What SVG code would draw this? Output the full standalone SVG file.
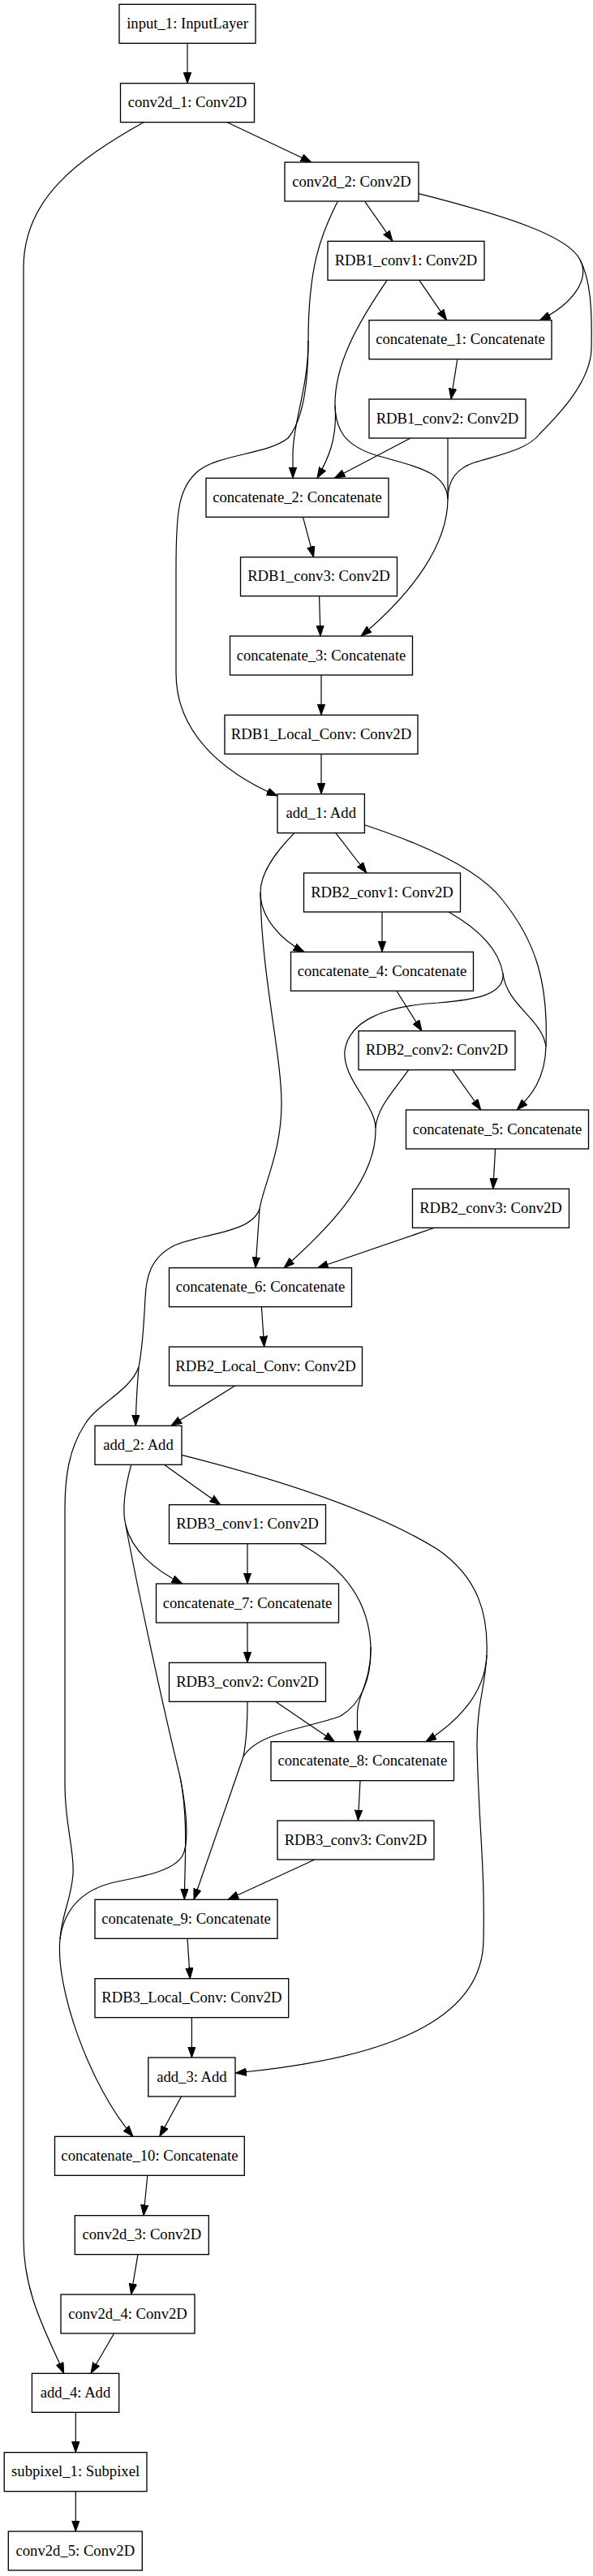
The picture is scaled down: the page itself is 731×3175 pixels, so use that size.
<svg xmlns="http://www.w3.org/2000/svg" width="731" height="3175" viewBox="0 0 731 3175">
<style>
.n rect{fill:#fff;stroke:#000;stroke-width:1.33}
.n text{font-family:"Liberation Serif","Times New Roman",serif;font-size:18.67px;text-anchor:middle;fill:#000}
.e path{fill:none;stroke:#000;stroke-width:1.2;marker-end:url(#ah)}
.e path.t{marker-end:none}
</style>
<defs>
<marker id="ah" markerUnits="userSpaceOnUse" markerWidth="14" markerHeight="10" viewBox="0 0 14 10" refX="13.3" refY="5" orient="auto">
<path d="M0,0.3 L13.3,5 L0,9.7 Z" fill="#000" stroke="#000" stroke-width="1"/>
</marker>
</defs>
<rect x="0" y="0" width="731" height="3175" fill="#fff"/>
<g id="edges" class="e">
<path d="M231,53.3 L231,102.7"/>
<path d="M280,150.7 L384,200"/>
<path d="M177,150.7 C95,197 29,245 29,330 L29,2760 C29,2830 60,2880 78.7,2925.3"/>
<path d="M450,248.7 L484,297.3"/>
<path class="t" d="M516,238.7 C620,265 700,290 715,320"/>
<path d="M715,320 C728,345 705,375 665.4,394.7"/>
<path class="t" d="M715,320 C728,345 730,380 729,430 C728,470 690,510 665,535 C650,555 610,562 585,570 C560,578 552,595 552,615"/>
<path d="M552,615 C552,670 510,730 445,784"/>
<path class="t" d="M416,248.7 C395,290 380,330 380,420"/>
<path d="M380,420 C380,480 361,520 361,560 L361,589.3"/>
<path d="M380,420 C380,480 372,520 355,540 C330,560 270,560 245,580 C220,600 217,630 217,700 L217,830 C217,900 270,950 342,981"/>
<path d="M517,345.7 L550.6,394.7"/>
<path class="t" d="M477,345.7 C440,400 412,450 413,500"/>
<path d="M413,500 C416,540 405,565 391,589.3"/>
<path class="t" d="M413,500 C414,530 425,548 460,560 C510,575 550,580 552,615"/>
<path d="M563.7,443.3 L556,492"/>
<path d="M506,540 L412.4,589.3"/>
<path class="t" d="M552,540 L552,615"/>
<path d="M373.5,637.3 L386.6,686.7"/>
<path d="M393.6,734.7 L395,784"/>
<path d="M396,832 L396,881.3"/>
<path d="M396,929.3 L396,978.7"/>
<path d="M413.8,1026.7 L452,1076"/>
<path class="t" d="M363,1026.7 C340,1050 321,1075 321,1100"/>
<path d="M321,1100 C321,1130 345,1158 375,1173.3"/>
<path class="t" d="M321,1100 C322,1200 347,1300 347,1360 C347,1420 325,1460 320,1490"/>
<path d="M320,1490 L315,1562.7"/>
<path class="t" d="M320,1490 C310,1520 250,1520 215,1535 C185,1550 180,1575 179,1600 C177,1640 174,1670 171,1685"/>
<path d="M171,1685 C169,1710 167.5,1730 167.3,1757.3"/>
<path class="t" d="M171,1685 C160,1715 120,1730 105,1755 C85,1785 80,1820 80,1860 L80,2200 C80,2250 92,2280 90,2310 C88,2340 76,2360 74,2390"/>
<path d="M74,2390 C68,2450 110,2570 164,2633.3"/>
<path class="t" d="M449.4,1016.7 C520,1040 590,1070 620,1110 C660,1160 676,1210 673,1290"/>
<path d="M673,1290 C672,1330 655,1350 637.3,1368"/>
<path d="M471,1124 L471,1173.3"/>
<path class="t" d="M553,1124 C590,1145 615,1170 620,1200"/>
<path class="t" d="M620,1200 C625,1240 668,1255 673,1290"/>
<path class="t" d="M620,1200 C622,1225 590,1232 540,1236 C470,1240 430,1260 425,1295 C422,1330 462,1360 463,1390"/>
<path d="M463,1390 C465,1450 410,1510 350,1562.7"/>
<path d="M488.8,1221.3 L520,1270.7"/>
<path d="M557.6,1318.7 L592.8,1368"/>
<path class="t" d="M503.7,1318.7 C485,1345 465,1365 463,1390"/>
<path d="M610.6,1416 L607.8,1465.3"/>
<path d="M535.6,1513.3 L391.3,1562.7"/>
<path d="M322.4,1610.7 L325.7,1660"/>
<path d="M289.6,1708 L210.9,1757.3"/>
<path d="M202.4,1805.3 L271.8,1854.7"/>
<path class="t" d="M161.7,1805.3 C155,1830 150,1860 155,1880"/>
<path d="M155,1880 C162,1910 190,1935 225,1952"/>
<path class="t" d="M155,1880 C170,1960 200,2100 222,2190"/>
<path d="M222,2190 C232,2240 228,2290 227.3,2341.3"/>
<path class="t" d="M222,2190 C232,2240 232,2275 225,2287 C215,2305 180,2312 150,2318 C110,2325 80,2345 74,2390"/>
<path class="t" d="M224,1793.3 C330,1820 460,1860 540,1910 C590,1945 602,1990 600,2040"/>
<path d="M600,2040 C598,2090 560,2125 524.8,2146.7"/>
<path d="M600,2040 C598,2080 588,2100 588,2150 C590,2250 598,2300 596,2390 C596,2480 500,2535 290.5,2555"/>
<path d="M305,1902.7 L305,1952"/>
<path class="t" d="M370,1902.7 C420,1930 455,1970 457,2030"/>
<path d="M457,2030 C458,2070 441,2090 440.5,2110 L440.5,2146.7"/>
<path class="t" d="M457,2030 C458,2070 445,2100 420,2115 C380,2130 318,2135 300,2165"/>
<path d="M300,2165 L239,2341.3"/>
<path d="M305,2000 L305,2049.3"/>
<path d="M339.7,2097.3 L412.4,2146.7"/>
<path class="t" d="M305,2097.3 C305,2140 302,2155 300,2165"/>
<path d="M444,2194.7 L441.4,2244"/>
<path d="M388,2292 L281,2341.3"/>
<path d="M231,2389.3 L234.3,2438.7"/>
<path d="M236.4,2486.7 L236.4,2536"/>
<path d="M223.5,2584 L196.8,2633.3"/>
<path d="M181.8,2681.3 L177,2730.7"/>
<path d="M170,2778.7 L161.7,2828"/>
<path d="M140.6,2876 L112,2925.3"/>
<path d="M93.3,2973.3 L93.3,3022.7"/>
<path d="M93.3,3070.7 L93.3,3120"/>
</g>
<g id="input_1" class="n"><rect x="147" y="5.33" width="168" height="48"/><text x="231" y="34.9">input_1: InputLayer</text></g>
<g id="conv2d_1" class="n"><rect x="148.5" y="102.67" width="165" height="48"/><text x="231" y="132.3">conv2d_1: Conv2D</text></g>
<g id="conv2d_2" class="n"><rect x="351" y="200" width="165" height="48"/><text x="433.5" y="229.6">conv2d_2: Conv2D</text></g>
<g id="RDB1_conv1" class="n"><rect x="404" y="297.33" width="193" height="48"/><text x="500.5" y="326.9">RDB1_conv1: Conv2D</text></g>
<g id="concatenate_1" class="n"><rect x="455" y="394.67" width="225" height="48"/><text x="567.5" y="424.3">concatenate_1: Concatenate</text></g>
<g id="RDB1_conv2" class="n"><rect x="455" y="492" width="193" height="48"/><text x="551.5" y="521.6">RDB1_conv2: Conv2D</text></g>
<g id="concatenate_2" class="n"><rect x="254" y="589.33" width="225" height="48"/><text x="366.5" y="618.9">concatenate_2: Concatenate</text></g>
<g id="RDB1_conv3" class="n"><rect x="296.5" y="686.67" width="193" height="48"/><text x="393" y="716.3">RDB1_conv3: Conv2D</text></g>
<g id="concatenate_3" class="n"><rect x="283.5" y="784" width="225" height="48"/><text x="396" y="813.6">concatenate_3: Concatenate</text></g>
<g id="RDB1_Local_Conv" class="n"><rect x="277" y="881.33" width="238" height="48"/><text x="396" y="910.9">RDB1_Local_Conv: Conv2D</text></g>
<g id="add_1" class="n"><rect x="342" y="978.67" width="107.4" height="48"/><text x="395.7" y="1008.3">add_1: Add</text></g>
<g id="RDB2_conv1" class="n"><rect x="374.5" y="1076" width="193" height="48"/><text x="471" y="1105.6">RDB2_conv1: Conv2D</text></g>
<g id="concatenate_4" class="n"><rect x="358.5" y="1173.33" width="225" height="48"/><text x="471" y="1202.9">concatenate_4: Concatenate</text></g>
<g id="RDB2_conv2" class="n"><rect x="442" y="1270.67" width="193" height="48"/><text x="538.5" y="1300.3">RDB2_conv2: Conv2D</text></g>
<g id="concatenate_5" class="n"><rect x="500.5" y="1368" width="225" height="48"/><text x="613" y="1397.6">concatenate_5: Concatenate</text></g>
<g id="RDB2_conv3" class="n"><rect x="508.5" y="1465.33" width="193" height="48"/><text x="605" y="1494.9">RDB2_conv3: Conv2D</text></g>
<g id="concatenate_6" class="n"><rect x="208.5" y="1562.67" width="225" height="48"/><text x="321" y="1592.3">concatenate_6: Concatenate</text></g>
<g id="RDB2_Local_Conv" class="n"><rect x="208.5" y="1660" width="238" height="48"/><text x="327.5" y="1689.6">RDB2_Local_Conv: Conv2D</text></g>
<g id="add_2" class="n"><rect x="117" y="1757.33" width="107" height="48"/><text x="170.5" y="1786.9">add_2: Add</text></g>
<g id="RDB3_conv1" class="n"><rect x="208.5" y="1854.67" width="193" height="48"/><text x="305" y="1884.3">RDB3_conv1: Conv2D</text></g>
<g id="concatenate_7" class="n"><rect x="192.5" y="1952" width="225" height="48"/><text x="305" y="1981.6">concatenate_7: Concatenate</text></g>
<g id="RDB3_conv2" class="n"><rect x="208.5" y="2049.33" width="193" height="48"/><text x="305" y="2078.9">RDB3_conv2: Conv2D</text></g>
<g id="concatenate_8" class="n"><rect x="334" y="2146.67" width="225.5" height="48"/><text x="446.8" y="2176.3">concatenate_8: Concatenate</text></g>
<g id="RDB3_conv3" class="n"><rect x="342" y="2244" width="193" height="48"/><text x="438.5" y="2273.6">RDB3_conv3: Conv2D</text></g>
<g id="concatenate_9" class="n"><rect x="117" y="2341.33" width="225" height="48"/><text x="229.5" y="2370.9">concatenate_9: Concatenate</text></g>
<g id="RDB3_Local_Conv" class="n"><rect x="117" y="2438.67" width="238.7" height="48"/><text x="236.4" y="2468.3">RDB3_Local_Conv: Conv2D</text></g>
<g id="add_3" class="n"><rect x="182.8" y="2536" width="107.2" height="48"/><text x="236.4" y="2565.6">add_3: Add</text></g>
<g id="concatenate_10" class="n"><rect x="67.5" y="2633.33" width="233.8" height="48"/><text x="184.4" y="2662.9">concatenate_10: Concatenate</text></g>
<g id="conv2d_3" class="n"><rect x="92.3" y="2730.67" width="165" height="48"/><text x="174.8" y="2760.3">conv2d_3: Conv2D</text></g>
<g id="conv2d_4" class="n"><rect x="75" y="2828" width="165" height="48"/><text x="157.5" y="2857.6">conv2d_4: Conv2D</text></g>
<g id="add_4" class="n"><rect x="39.4" y="2925.33" width="107.3" height="48"/><text x="93" y="2954.9">add_4: Add</text></g>
<g id="subpixel_1" class="n"><rect x="5.2" y="3022.67" width="175.8" height="48"/><text x="93.1" y="3052.3">subpixel_1: Subpixel</text></g>
<g id="conv2d_5" class="n"><rect x="10.3" y="3120" width="165" height="48"/><text x="92.8" y="3149.6">conv2d_5: Conv2D</text></g>
</svg>
